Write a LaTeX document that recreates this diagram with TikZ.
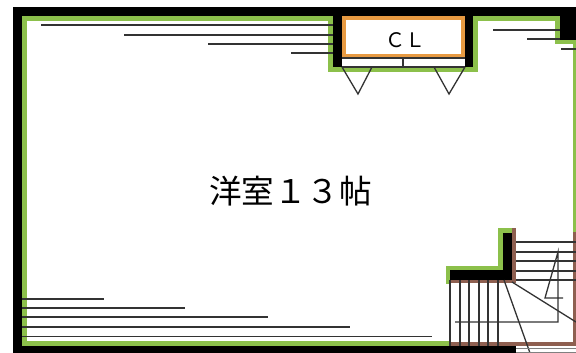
\documentclass[tikz,border=0pt]{standalone}
\usepackage{fontspec}
\newfontfamily\jpfont{Noto Sans CJK JP}
\definecolor{wallgreen}{HTML}{8CC04B}
\definecolor{clorange}{HTML}{E79A42}
\definecolor{stairbrown}{HTML}{8E5F50}
\definecolor{linegray}{HTML}{333333}
\tikzset{
  wall/.style={fill=black},
  finish/.style={fill=wallgreen},
  hatchline/.style={draw=linegray,line width=1.3pt},
  stairhalo/.style={draw=stairbrown,line width=2.8pt},
}
\begin{document}
\begin{tikzpicture}[x=1pt,y=-1pt]
\useasboundingbox (0,0) rectangle (576,353);
% green finish
\fill[finish] (22,16) rectangle (333,21);
\fill[finish] (22,16) rectangle (27,346);
\fill[finish] (22,341) rectangle (450,346);
\fill[finish] (328,16) rectangle (333,72);
\fill[finish] (328,67) rectangle (478,72);
\fill[finish] (473,16) rectangle (478,72);
\fill[finish] (473,16) rectangle (560,21);
\fill[finish] (555,16) rectangle (560,44);
\fill[finish] (555,40) rectangle (576,44);
\fill[finish] (573,40) rectangle (576,232);
\fill[finish] (498,228) rectangle (512,271);
\fill[finish] (446,266) rectangle (503,271);
\fill[finish] (446,266) rectangle (450,284);
% brown around the stairs
\fill[stairbrown] (512,228) rectangle (516,282);
\fill[stairbrown] (450,280) rectangle (516,283);
\fill[stairbrown] (450,342) rectangle (576,346);
\fill[stairbrown] (573,232) rectangle (576,346);
\foreach \sx in {460,469,479,488,498}
  \draw[stairhalo] (\sx,280) -- (\sx,342);
% black walls
\fill[wall] (13,7) rectangle (576,16);
\fill[wall] (13,7) rectangle (22,353);
\fill[wall] (13,346) rectangle (516,353);
\fill[wall] (333,16) rectangle (342,67);
\fill[wall] (465,16) rectangle (473,67);
\fill[wall] (560,16) rectangle (576,40);
\fill[wall] (503,233) rectangle (512,280);
\fill[wall] (450,270) rectangle (512,280);
% closet
\draw[clorange,line width=4.4pt] (344.2,18.2) rectangle (462.8,56);
\draw[hatchline] (342,58) -- (465,58);
\draw[hatchline] (342,67) -- (465,67);
\draw[hatchline] (403,58) -- (403,67);
\draw[hatchline,line join=miter] (342,67) -- (358,94) -- (372,67);
\draw[hatchline,line join=miter] (434,67) -- (449,94) -- (465,67);
\node[inner sep=0pt,font=\jpfont\fontsize{20}{20}\selectfont] (cl) at (405.5,40.5) {ＣＬ};
% room label
\node[inner sep=0pt,font=\jpfont\fontsize{32.6}{33}\selectfont] (room) at (290.5,191) {洋室１３帖};
% hatch lines upper left and lower left
\foreach \hx/\hy in {41/25,124/35,208/44,291/53}
  \draw[hatchline] (\hx,\hy) -- (333,\hy);
\foreach \hx/\hy in {104/299,185/308,268/317,350/327,432/336.5}
  \draw[hatchline] (22,\hy) -- (\hx,\hy);
\draw[hatchline] (493,30) -- (560,30);
\draw[hatchline] (527,39) -- (560,39);
\draw[hatchline] (561,49) -- (576,49);
% stairs
\foreach \sx in {450,460,469,479,488,498}
  \draw[hatchline] (\sx,280) -- (\sx,346);
\foreach \sy in {242,252,261,271,280}
  \draw[hatchline] (516,\sy) -- (576,\sy);
\draw[hatchline] (504,280) -- (530,353);
\draw[hatchline] (512,282) -- (576,322);
\draw[hatchline,line join=miter] (455,322) -- (558,322) -- (558,252) -- (545,298) -- (563,298);
\draw[draw=gray,line width=0.8pt] (516,348) -- (576,348);
\draw[draw=gray,line width=0.8pt] (516,352.5) -- (576,352.5);
\end{tikzpicture}
\end{document}
